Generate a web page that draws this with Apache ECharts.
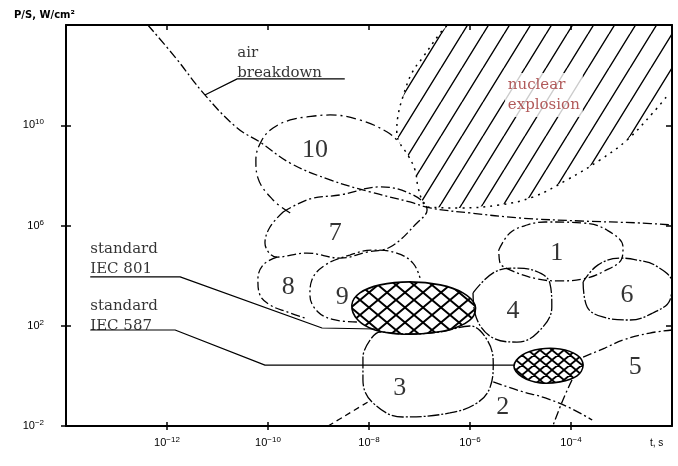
<!DOCTYPE html>
<html>
<head>
<meta charset="utf-8">
<script src="https://cdn.jsdelivr.net/npm/echarts@6/dist/echarts.min.js"></script>
<style>
  html, body { margin: 0; padding: 0; background: #fff; }
  #chart { width: 678px; height: 466px; }
</style>
</head>
<body>
<div id="chart"></div>
<script>
// Both axes are plotted in decades: x = log10(t, s), y = log10(P/S, W/cm²).
const X_MIN = -14, X_MAX = -2;
const Y_MIN = -2, Y_MAX = 14;
const xTickExp = [-12, -10, -8, -6, -4];
const yTickExp = [-2, 2, 6, 10];

// Air breakdown threshold
const airBreakdown = [
  [-12.38, 14.0], [-11.84, 12.72], [-11.25, 11.21], [-10.61, 9.89], [-10.16, 9.33],
  [-9.56, 8.49], [-8.77, 7.82], [-7.98, 7.34], [-7.19, 6.94], [-6.79, 6.70],
  [-6.00, 6.50], [-5.01, 6.30], [-3.82, 6.18], [-2.63, 6.10], [-2.0, 6.02]
];
const airLeader = [[-8.48, 11.85], [-10.61, 11.85], [-11.25, 11.21]];

// Nuclear explosion domain edge
const nuclearEdge = [
  [-6.46, 13.96], [-6.59, 13.68], [-6.93, 12.72], [-7.15, 12.09], [-7.33, 11.13],
  [-7.43, 10.33], [-7.45, 9.69], [-7.39, 9.29], [-7.23, 8.81], [-7.09, 8.22],
  [-7.03, 7.54], [-6.95, 7.02], [-6.85, 6.74], [-6.20, 6.70], [-5.41, 6.82],
  [-4.75, 7.14], [-4.08, 7.82], [-3.43, 8.61], [-2.89, 9.41], [-2.38, 10.49],
  [-2.08, 11.21]
];

// Numbered source domains
const area10 = [
  [-9.56, 6.50], [-9.90, 7.02], [-10.20, 7.90], [-10.24, 8.61], [-10.12, 9.41],
  [-9.90, 9.89], [-9.56, 10.21], [-9.23, 10.33], [-8.77, 10.41], [-8.18, 10.21],
  [-7.64, 9.73], [-7.39, 9.29]
];
const area7 = [
  [-9.70, 6.54], [-9.17, 7.06], [-8.57, 7.22], [-7.78, 7.54], [-7.13, 7.22],
  [-6.85, 6.62], [-7.05, 6.10], [-7.58, 5.14], [-8.04, 4.94], [-8.57, 4.70],
  [-9.23, 4.90], [-9.82, 4.74], [-10.06, 5.30], [-9.96, 5.94], [-9.70, 6.54]
];
const area8 = [
  [-9.82, 4.74], [-10.10, 4.42], [-10.20, 3.83], [-10.16, 3.23], [-9.96, 2.83],
  [-9.62, 2.55], [-9.27, 2.31]
];
const area9 = [
  [-8.24, 2.15], [-8.67, 2.23], [-9.01, 2.55], [-9.17, 3.23], [-9.13, 3.83],
  [-8.87, 4.42], [-8.38, 4.82], [-7.92, 5.02], [-7.45, 4.90], [-7.13, 4.50],
  [-6.99, 3.91]
];
const iec801Area = [
  [-8.34, 2.83], [-8.18, 3.31], [-7.78, 3.63], [-7.19, 3.75], [-6.59, 3.63],
  [-6.14, 3.31], [-5.90, 2.83], [-5.96, 2.31], [-6.30, 1.91], [-6.79, 1.71],
  [-7.39, 1.67], [-7.88, 1.83], [-8.22, 2.23]
];
const iec587Area = [
  [-5.13, 0.39], [-4.97, 0.83], [-4.61, 1.07], [-4.22, 1.07], [-3.88, 0.83],
  [-3.76, 0.43], [-3.88, 0.00], [-4.22, -0.24], [-4.61, -0.28], [-4.97, -0.04]
];
const area1 = [
  [-5.43, 5.02], [-5.21, 5.70], [-4.87, 6.02], [-4.51, 6.14], [-3.76, 6.10],
  [-3.29, 5.82], [-2.97, 5.14], [-2.99, 4.70], [-3.37, 4.15], [-3.76, 3.87],
  [-4.22, 3.79], [-4.67, 3.87], [-5.21, 4.23], [-5.41, 4.54], [-5.43, 5.02]
];
const area6 = [
  [-3.76, 3.75], [-3.68, 2.75], [-3.37, 2.35], [-2.83, 2.23], [-2.38, 2.51],
  [-2.04, 3.03], [-2.0, 3.71], [-2.34, 4.42], [-2.69, 4.62], [-3.03, 4.70],
  [-3.47, 4.42], [-3.76, 3.75]
];
const area4 = [
  [-5.94, 3.31], [-5.88, 2.35], [-5.54, 1.51], [-5.07, 1.35], [-4.67, 1.71],
  [-4.38, 2.75], [-4.42, 3.71], [-4.71, 4.19], [-5.11, 4.30], [-5.54, 4.11],
  [-5.94, 3.31]
];
const area3 = [
  [-7.98, 1.43], [-8.12, 0.75], [-8.12, -0.16], [-7.92, -1.08], [-7.33, -1.64],
  [-6.40, -1.48], [-5.86, -1.08], [-5.60, -0.44], [-5.54, 0.51], [-5.66, 1.43],
  [-6.00, 1.99], [-6.59, 1.75], [-7.29, 1.67], [-7.78, 1.75], [-7.98, 1.43]
];
const area2Left = [[-8.81, -2.0], [-8.48, -1.60], [-8.02, -1.04]];
const area2Right = [[-5.54, -0.24], [-5.01, -0.60], [-4.51, -0.88], [-4.02, -1.28], [-3.58, -1.76]];
const area5Top = [[-3.76, 0.75], [-3.33, 1.11], [-2.97, 1.43], [-2.44, 1.71], [-2.0, 1.83]];
const area5Left = [[-3.98, -0.16], [-4.16, -0.96], [-4.36, -2.0]];

// Standard leaders
const iec801Leader = [[-13.52, 3.95], [-11.74, 3.95], [-8.93, 1.91], [-7.88, 1.87]];
const iec587Leader = [[-13.52, 1.83], [-11.84, 1.83], [-10.06, 0.43], [-5.11, 0.43]];

// Text placed in the plot
const regionNumbers = ['10', '7', '8', '9', '1', '4', '6', '3', '2', '5'];
const regionNumberAt = [
  [-9.07, 9.01], [-8.67, 5.70], [-9.60, 3.55], [-8.53, 3.15], [-4.28, 4.90],
  [-5.15, 2.59], [-2.89, 3.23], [-7.39, -0.48], [-5.35, -1.24], [-2.73, 0.35]
];
const noteTexts = ['air\nbreakdown', 'nuclear\nexplosion', 'standard\nIEC 801', 'standard\nIEC 587'];
const noteAt = [[-10.61, 12.49], [-5.31, 11.21], [-13.52, 4.64], [-13.52, 2.39]];

const INK = '#000';

function stripes(w, h, lw, cross) {
  const c = document.createElement('canvas');
  c.width = w; c.height = h;
  const g = c.getContext('2d');
  g.strokeStyle = INK;
  g.lineWidth = lw;
  g.beginPath();
  for (const dx of [-w, 0, w]) {
    g.moveTo(dx, h); g.lineTo(dx + w, 0);
    if (cross) { g.moveTo(dx, 0); g.lineTo(dx + w, h); }
  }
  g.stroke();
  return { image: c, repeat: 'repeat' };
}

function outline(data, dash, width, smooth) {
  return {
    type: 'line', data: data, smooth: smooth === undefined ? 0.4 : smooth,
    symbol: 'none', silent: true, animation: false, z: 4,
    lineStyle: { color: INK, width: width || 1.3, type: dash }
  };
}

function filled(points, fill, smooth, stroke) {
  return {
    type: 'custom', coordinateSystem: 'cartesian2d', data: points,
    encode: { x: 0, y: 1 }, silent: true, animation: false, z: 2,
    renderItem: function (params, api) {
      if (params.dataIndex !== 0) return null;
      return {
        type: 'polygon',
        shape: { points: points.map(function (p) { return api.coord(p); }), smooth: smooth },
        style: { fill: fill, stroke: stroke ? INK : null, lineWidth: 1.6 }
      };
    }
  };
}

const nuclearPolygon = nuclearEdge.concat([[X_MAX, 11.3], [X_MAX, Y_MAX], [-6.46, Y_MAX]]);

const DASHDOT = [9, 3, 2, 3];
const LONGDASH = [10, 4, 2, 4];

function powLabel(v) {
  const e = v < 0 ? '\u2212' + (-v) : String(v);
  return '{b|10}{s|' + e + '}';
}
const powRich = {
  b: { fontSize: 11, fontFamily: 'Liberation Sans', color: INK, lineHeight: 14 },
  s: { fontSize: 8, fontFamily: 'Liberation Sans', color: INK, lineHeight: 8, verticalAlign: 'top' }
};

const frameLine = { onZero: false, lineStyle: { color: INK, width: 2 } };
const tickStyle = { color: INK, width: 1.5 };

const option = {
  animation: false,
  backgroundColor: '#fff',
  grid: { left: 66, right: 6, top: 25, bottom: 40 },
  xAxis: [
    {
      type: 'value', min: X_MIN, max: X_MAX, position: 'bottom',
      axisLine: frameLine,
      axisTick: { customValues: xTickExp, length: 4, lineStyle: tickStyle },
      axisLabel: { customValues: xTickExp, margin: 10, formatter: powLabel, rich: powRich },
      splitLine: { show: false }
    },
    {
      type: 'value', min: X_MIN, max: X_MAX, position: 'top',
      axisLine: frameLine,
      axisTick: { customValues: xTickExp, inside: true, length: 5, lineStyle: tickStyle },
      axisLabel: { show: false }, splitLine: { show: false }
    },
    {
      type: 'value', min: X_MIN, max: X_MAX, position: 'bottom',
      axisLine: { show: false, onZero: false },
      axisTick: { customValues: xTickExp, inside: true, length: 4, lineStyle: tickStyle },
      axisLabel: { show: false }, splitLine: { show: false }
    }
  ],
  yAxis: [
    {
      type: 'value', min: Y_MIN, max: Y_MAX, position: 'left',
      axisLine: frameLine,
      axisTick: { customValues: yTickExp, length: 5, lineStyle: tickStyle },
      axisLabel: { customValues: yTickExp, margin: 22, formatter: powLabel, rich: powRich },
      splitLine: { show: false }
    },
    {
      type: 'value', min: Y_MIN, max: Y_MAX, position: 'right',
      axisLine: frameLine,
      axisTick: { customValues: yTickExp.slice(1), inside: true, length: 6, lineStyle: tickStyle },
      axisLabel: { show: false }, splitLine: { show: false }
    },
    {
      type: 'value', min: Y_MIN, max: Y_MAX, position: 'left',
      axisLine: { show: false, onZero: false },
      axisTick: { customValues: yTickExp, inside: true, length: 5, lineStyle: tickStyle },
      axisLabel: { show: false }, splitLine: { show: false }
    }
  ],
  graphic: [
    { type: 'text', left: 14, top: 10,
      style: { text: 'P/S, W/cm\u00b2', fill: INK, font: 'bold 10px "DejaVu Sans"' } },
    { type: 'text', left: 650, top: 438,
      style: { text: 't, s', fill: INK, font: '10px "Liberation Sans"' } }
  ],
  series: [
    filled(nuclearPolygon, stripes(21, 34, 1.4, false), 0, false),
    filled(iec801Area, stripes(18, 15, 2, true), 0.35, true),
    filled(iec587Area, stripes(12, 10, 1.8, true), 0.35, true),

    outline(airBreakdown, DASHDOT),
    outline(nuclearEdge, [2, 5], 1.5),
    outline(area10, LONGDASH),
    outline(area7, DASHDOT),
    outline(area8, DASHDOT),
    outline(area9, DASHDOT),
    outline(area1, DASHDOT),
    outline(area6, [12, 2, 2, 2]),
    outline(area4, [12, 2, 2, 2]),
    outline(area3, [12, 2, 2, 2]),
    outline(area2Left, [6, 4]),
    outline(area2Right, DASHDOT),
    outline(area5Top, DASHDOT),
    outline(area5Left, DASHDOT),
    outline(airLeader, 'solid', 1.2, false),
    outline(iec801Leader, 'solid', 1.2, false),
    outline(iec587Leader, 'solid', 1.2, false),

    {
      type: 'scatter', silent: true, animation: false, z: 10,
      symbolSize: 1, itemStyle: { color: 'rgba(0,0,0,0)' },
      data: regionNumbers.map(function (t, i) { return { name: t, value: regionNumberAt[i] }; }),
      label: {
        show: true, position: 'inside', formatter: '{b}',
        fontFamily: 'Liberation Serif', fontSize: 26, color: INK,
        align: 'center', verticalAlign: 'middle'
      }
    },
    {
      type: 'scatter', silent: true, animation: false, z: 10,
      symbolSize: 1, itemStyle: { color: 'rgba(0,0,0,0)' },
      data: noteTexts.map(function (t, i) {
        const item = { name: t, value: noteAt[i] };
        if (i === 1) item.label = { color: '#9e2f2f', backgroundColor: '#fff', padding: [2, 3] };
        return item;
      }),
      label: {
        show: true, position: 'inside', formatter: '{b}',
        fontFamily: 'DejaVu Serif', fontSize: 15, lineHeight: 20, color: INK,
        align: 'left', verticalAlign: 'middle'
      }
    }
  ]
};

const chart = echarts.init(document.getElementById('chart'), null, { renderer: 'canvas' });
chart.setOption(option);
</script>
</body>
</html>
